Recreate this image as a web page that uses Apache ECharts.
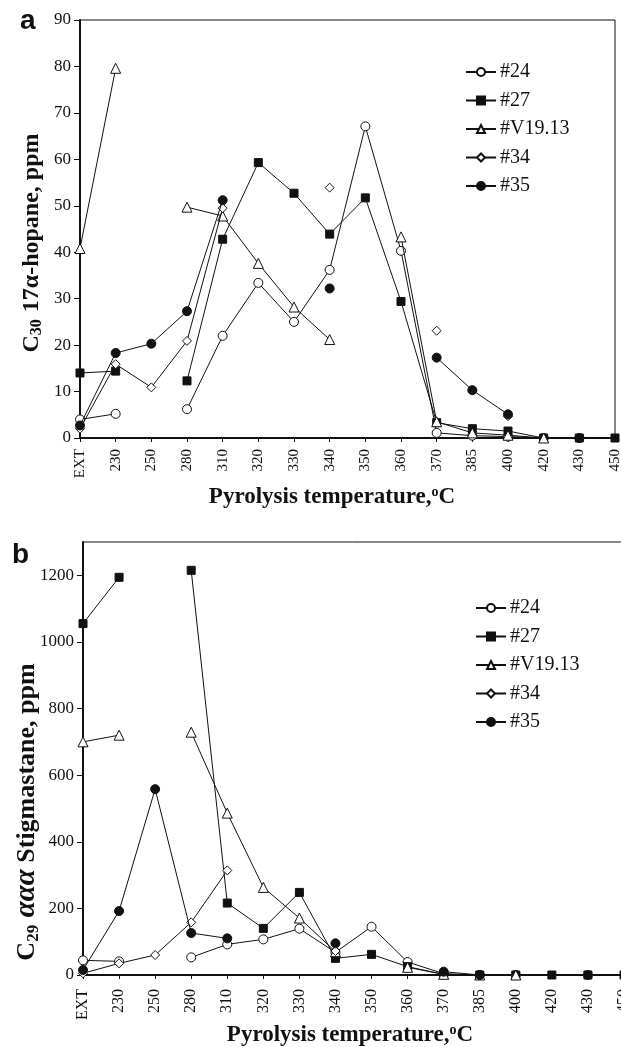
<!DOCTYPE html>
<html>
<head>
<meta charset="utf-8">
<title>Pyrolysis biomarkers</title>
<script src="https://cdn.jsdelivr.net/npm/echarts@6/dist/echarts.min.js"></script>
<style>
  html, body { margin: 0; padding: 0; background: #fff; overflow: hidden; }
  #chart { width: 621px; height: 1047px; }
</style>
</head>
<body>
<div id="chart"></div>
<script>
// Pyrolysis temperature steps (EXT = extract before heating)
const categories = ['EXT', '230', '250', '280', '310', '320', '330', '340', '350', '360', '370', '385', '400', '420', '430', '450'];
const sampleNames = ['#24', '#27', '#V19.13', '#34', '#35'];

// (a) C30 17α-hopane, ppm
const hopane24 = [4.0, 5.2, null, 6.2, 22.0, 33.4, 25.0, 36.2, 67.1, 40.3, 1.1, 0.5, 0.3, 0, null, null];
const hopane27 = [14.0, 14.4, null, 12.3, 42.8, 59.3, 52.7, 43.9, 51.7, 29.4, 3.3, 2.0, 1.5, 0, 0, 0];
const hopaneV1913 = [40.8, 79.6, null, 49.7, 47.8, 37.6, 28.2, 21.2, null, 43.3, 3.5, 1.1, 0.6, 0, null, null];
const hopane34 = [2.0, 15.9, 10.9, 20.9, 49.5, null, null, 53.9, null, null, 23.1, null, 4.7, null, null, null];
const hopane35 = [2.7, 18.3, 20.3, 27.3, 51.2, null, null, 32.2, null, null, 17.3, 10.3, 5.1, null, 0, null];

// (b) C29 ααα stigmastane, ppm
const sterane24 = [44, 41, null, 53, 92, 107, 139, 68, 145, 39, 4, 0, 0, null, null, null];
const sterane27 = [1055, 1194, null, 1215, 216, 140, 248, 50, 62, 25, 2, 0, 0, 0, 0, 0];
const steraneV1913 = [700, 720, null, 729, 486, 263, 171, 70, null, 23, 2, 0, 0, null, null, null];
const sterane34 = [5, 35, 60, 158, 314, null, null, 72, null, null, null, null, null, null, null, null];
const sterane35 = [15, 192, 558, 126, 110, null, null, 95, null, null, 10, 0, null, null, 0, null];

// Value-axis tick labels
const yTicksA = [0, 10, 20, 30, 40, 50, 60, 70, 80, 90];
const yTicksB = [0, 200, 400, 600, 800, 1000, 1200];

const SERIF = '"Liberation Serif", "Times New Roman", serif';
const INK = '#111';

// marker style per sample
const markers = [
  { symbol: 'circle', size: 9, fill: '#fff' },
  { symbol: 'rect', size: 8, fill: INK },
  { symbol: 'triangle', size: 10, fill: '#fff' },
  { symbol: 'diamond', size: 9, fill: '#fff' },
  { symbol: 'circle', size: 9, fill: INK }
];

function makeSeries(values, idx, panel) {
  const m = markers[idx];
  return {
    type: 'line',
    name: sampleNames[idx],
    xAxisIndex: panel,
    yAxisIndex: panel,
    data: values,
    symbol: m.symbol,
    symbolSize: m.size,
    showSymbol: true,
    showAllSymbol: true,
    connectNulls: false,
    animation: false,
    lineStyle: { color: INK, width: 1 },
    itemStyle: { color: m.fill, borderColor: INK, borderWidth: 1, opacity: 1 },
    emphasis: { disabled: true },
    z: 2 + idx
  };
}

function xAxisFor(gridIndex, fontSize, margin) {
  return {
    type: 'category',
    gridIndex: gridIndex,
    data: categories,
    boundaryGap: false,
    axisLine: { lineStyle: { color: INK, width: 2 } },
    axisTick: { show: true, inside: false, length: 4, alignWithLabel: true, lineStyle: { color: INK, width: 1 }, interval: 0 },
    axisLabel: { interval: 0, rotate: 90, margin: margin, color: INK, fontFamily: SERIF, fontSize: fontSize, hideOverlap: false },
    splitLine: { show: false }
  };
}

function yAxisFor(gridIndex, max, ticks) {
  return {
    type: 'value',
    gridIndex: gridIndex,
    min: 0,
    max: max,
    axisLine: { show: true, lineStyle: { color: INK, width: 2 } },
    axisTick: { show: true, length: 6, lineStyle: { color: INK, width: 1 }, customValues: ticks },
    axisLabel: {
      color: INK, fontFamily: SERIF, fontSize: 17, margin: 9, customValues: ticks,
      formatter: function (v) { return String(v); }
    },
    splitLine: { show: false }
  };
}

function legendFor(left, top) {
  return {
    orient: 'vertical',
    left: left,
    top: top,
    padding: 0,
    itemWidth: 30,
    itemHeight: 10,
    itemGap: 8.5,
    selectedMode: false,
    data: sampleNames,
    textStyle: { color: INK, fontFamily: SERIF, fontSize: 20, padding: [0, 0, 0, -1] }
  };
}

function titleRich(size) {
  return {
    m: { fontFamily: SERIF, fontWeight: 'bold', fontSize: size, fill: INK },
    s: { fontFamily: SERIF, fontWeight: 'bold', fontSize: Math.round(size * 0.65), fill: INK, verticalAlign: 'bottom', padding: [0, 1, -1, 0] },
    g: { fontFamily: SERIF, fontWeight: 'bold', fontSize: size, fill: INK },
    gi: { fontFamily: SERIF, fontWeight: 'bold', fontStyle: 'italic', fontSize: size + 3, fill: INK },
    sup: { fontFamily: SERIF, fontWeight: 'bold', fontSize: 14, fill: INK, verticalAlign: 'top', padding: [0, 0, 9, 0] }
  };
}

const chart = echarts.init(document.getElementById('chart'), null, { renderer: 'canvas' });

chart.setOption({
  backgroundColor: '#fff',
  animation: false,
  grid: [
    { left: 80, top: 20, right: 6, height: 418, outerBoundsMode: 'none', containLabel: false, show: true, borderColor: INK, borderWidth: 1, backgroundColor: 'transparent' },
    { left: 83, top: 542, right: -3, height: 433, outerBoundsMode: 'none', containLabel: false, show: true, borderColor: INK, borderWidth: 1, backgroundColor: 'transparent' }
  ],
  xAxis: [xAxisFor(0, 15, 11), xAxisFor(1, 16, 14)],
  yAxis: [yAxisFor(0, 90, yTicksA), yAxisFor(1, 1300, yTicksB)],
  legend: [legendFor(465, 62), legendFor(475, 598)],
  series: [
    makeSeries(hopane24, 0, 0),
    makeSeries(hopane27, 1, 0),
    makeSeries(hopaneV1913, 2, 0),
    makeSeries(hopane34, 3, 0),
    makeSeries(hopane35, 4, 0),
    makeSeries(sterane24, 0, 1),
    makeSeries(sterane27, 1, 1),
    makeSeries(steraneV1913, 2, 1),
    makeSeries(sterane34, 3, 1),
    makeSeries(sterane35, 4, 1)
  ],
  graphic: [
    { type: 'text', left: 20, top: 7, style: { text: 'a', font: 'bold 28px "Liberation Sans", Arial, sans-serif', fill: INK } },
    { type: 'text', left: 12, top: 541, style: { text: 'b', font: 'bold 28px "Liberation Sans", Arial, sans-serif', fill: INK } },
    {
      type: 'text', x: 32, y: 243, rotation: Math.PI / 2,
      style: { text: '{m|C}{s|30}{m| 17}{g|α}{m|-hopane, ppm}', rich: titleRich(24), align: 'center', verticalAlign: 'middle' }
    },
    {
      type: 'text', x: 27, y: 812, rotation: Math.PI / 2,
      style: { text: '{m|C}{s|29}{m| }{gi|ααα}{m| Stigmastane, ppm}', rich: titleRich(26), align: 'center', verticalAlign: 'middle' }
    },
    {
      type: 'text', x: 332, y: 497,
      style: { text: '{m|Pyrolysis temperature,}{sup|o}{m|C}', rich: titleRich(23), align: 'center', verticalAlign: 'middle' }
    },
    {
      type: 'text', x: 350, y: 1035,
      style: { text: '{m|Pyrolysis temperature,}{sup|o}{m|C}', rich: titleRich(23), align: 'center', verticalAlign: 'middle' }
    }
  ]
});
</script>
</body>
</html>
